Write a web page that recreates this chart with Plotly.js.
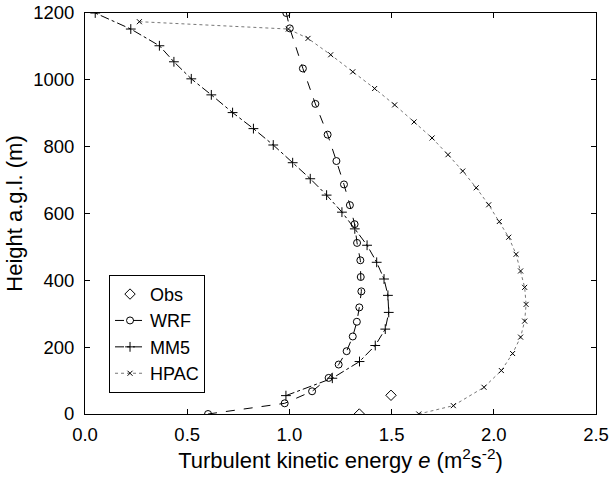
<!DOCTYPE html>
<html>
<head>
<meta charset="utf-8">
<script src="https://cdn.plot.ly/plotly-3.0.1.min.js"></script>
<style>html,body{margin:0;padding:0;background:#fff;}#chart{width:611px;height:477px;}</style>
</head>
<body>
<div id="chart"></div>
<script>
// Observations
var obsE = [1.342, 1.497];
var obsZ = [0, 56];

// WRF
var wrfE = [0.602, 0.977, 1.111, 1.192, 1.241, 1.280, 1.310, 1.330, 1.342, 1.352, 1.349, 1.347, 1.331, 1.319, 1.296, 1.267, 1.230, 1.187, 1.127, 1.066, 1.002, 0.985];
var wrfZ = [0, 32, 68, 108, 148, 188, 232, 276, 319, 367, 410, 460, 512, 568, 625, 687, 757, 836, 928, 1034, 1154, 1200];

// MM5
var mm5E = [0.983, 1.210, 1.343, 1.420, 1.469, 1.486, 1.482, 1.463, 1.427, 1.380, 1.320, 1.257, 1.182, 1.102, 1.016, 0.921, 0.824, 0.722, 0.618, 0.520, 0.435, 0.364, 0.224, 0.050];
var mm5Z = [55, 107, 157, 205, 254, 304, 355, 404, 454, 505, 554, 604, 655, 704, 752, 805, 854, 902, 955, 1003, 1054, 1102, 1152, 1200];

// HPAC
var hpacE = [1.633, 1.802, 1.952, 2.037, 2.092, 2.131, 2.151, 2.158, 2.151, 2.131, 2.109, 2.073, 2.027, 1.975, 1.914, 1.848, 1.776, 1.698, 1.610, 1.515, 1.417, 1.310, 1.202, 1.091, 0.995, 0.266];
var hpacZ = [0, 25, 80, 130, 181, 230, 278, 328, 379, 428, 478, 529, 576, 626, 677, 727, 776, 826, 874, 925, 974, 1024, 1075, 1124, 1152, 1174];

var traces = [
  {x: obsE, y: obsZ, name: 'Obs', mode: 'markers', type: 'scatter',
   marker: {symbol: 'diamond-open', size: 8, color: '#000', line: {width: 1, color: '#000'}}},
  {x: wrfE, y: wrfZ, name: 'WRF', mode: 'lines+markers', type: 'scatter',
   line: {dash: 'dash', width: 1, color: '#000'},
   marker: {symbol: 'circle-open', size: 7, color: '#000', line: {width: 1, color: '#000'}}},
  {x: mm5E, y: mm5Z, name: 'MM5', mode: 'lines+markers', type: 'scatter',
   line: {dash: 'dashdot', width: 1, color: '#000'},
   marker: {symbol: 'cross-thin-open', size: 7, color: '#000', line: {width: 1, color: '#000'}}},
  {x: hpacE, y: hpacZ, name: 'HPAC', mode: 'lines+markers', type: 'scatter',
   line: {dash: 'dot', width: 1, color: '#777'},
   marker: {symbol: 'x-thin-open', size: 5, color: '#000', line: {width: 1, color: '#000'}}}
];

var layout = {
  width: 611, height: 477,
  margin: {l: 85, r: 15, t: 13, b: 63},
  paper_bgcolor: '#fff', plot_bgcolor: '#fff',
  font: {family: '"Liberation Sans", Arial, sans-serif', size: 18.5, color: '#000'},
  showlegend: true,
  legend: {x: 0.047, y: 0.347, xanchor: 'left', yanchor: 'top',
           bordercolor: '#000', borderwidth: 1, bgcolor: '#fff',
           font: {size: 18}},
  xaxis: {
    range: [0, 2.5], dtick: 0.5, tick0: 0, tickformat: '.1f',
    showgrid: false, zeroline: false, showline: true, mirror: 'ticks',
    linecolor: '#000', linewidth: 1, ticks: 'inside', ticklen: 5, tickcolor: '#000',
    tickfont: {size: 18.5}, ticklabelstandoff: 4,
    title: {text: 'Turbulent kinetic energy <i>e</i> (m<sup>2</sup>s<sup>-2</sup>)', font: {size: 22}, standoff: 8}
  },
  yaxis: {
    range: [0, 1200], dtick: 200, tick0: 0,
    showgrid: false, zeroline: false, showline: true, mirror: 'ticks',
    linecolor: '#000', linewidth: 1, ticks: 'inside', ticklen: 5, tickcolor: '#000',
    tickfont: {size: 18.5}, ticklabelstandoff: 6,
    title: {text: 'Height a.g.l. (m)', font: {size: 22}, standoff: 4}
  }
};

Plotly.newPlot('chart', traces, layout, {staticPlot: true, displayModeBar: false});
</script>
</body>
</html>
